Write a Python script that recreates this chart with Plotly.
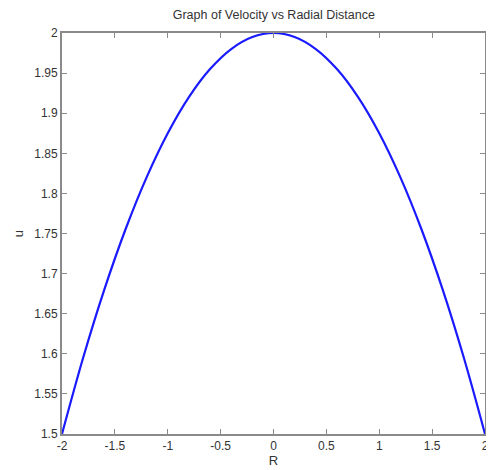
import plotly.graph_objects as go

R = [-2.0, -1.8, -1.6, -1.4, -1.2, -1.0, -0.8, -0.6, -0.4, -0.2, 0.0,
     0.2, 0.4, 0.6, 0.8, 1.0, 1.2, 1.4, 1.6, 1.8, 2.0]
u = [1.5, 1.595, 1.68, 1.755, 1.82, 1.875, 1.92, 1.955, 1.98, 1.995, 2.0,
     1.995, 1.98, 1.955, 1.92, 1.875, 1.82, 1.755, 1.68, 1.595, 1.5]

x_ticks = [-2, -1.5, -1, -0.5, 0, 0.5, 1, 1.5, 2]
x_labels = ["-2", "-1.5", "-1", "-0.5", "0", "0.5", "1", "1.5", "2"]
y_ticks = [1.5, 1.55, 1.6, 1.65, 1.7, 1.75, 1.8, 1.85, 1.9, 1.95, 2.0]
y_labels = ["1.5", "1.55", "1.6", "1.65", "1.7", "1.75", "1.8", "1.85", "1.9", "1.95", "2"]

title = "Graph of Velocity vs Radial Distance"

fig = go.Figure()
fig.add_trace(go.Scatter(x=R, y=u, mode="lines",
                         line=dict(color="#1a1aff", width=2.2, shape="spline"),
                         showlegend=False, cliponaxis=True))

font_family = "Liberation Sans, Arial, sans-serif"
axis_common = dict(showgrid=False, zeroline=False, showline=True, mirror="ticks",
                   linecolor="#8a8a8a", linewidth=2, ticks="inside", ticklen=5,
                   tickcolor="#8a8a8a", tickwidth=1, ticklabeloverflow="allow",
                   tickfont=dict(family=font_family, size=12, color="#333333"))

# the page body adds an 8px margin, so the figure is sized to fit inside the window
fig.update_layout(
    width=486, height=462,
    margin=dict(l=54, r=5, t=25, b=33),
    paper_bgcolor="white", plot_bgcolor="white",
    title=dict(text=title, x=0.547, xanchor="center", y=0.985, yanchor="middle",
               font=dict(family=font_family, size=12.5, color="#333333")),
    xaxis=dict(range=[-2, 2], tickvals=x_ticks, ticktext=x_labels,
               title=dict(text="R", standoff=2, font=dict(family=font_family, size=13, color="#333333")),
               **axis_common),
    yaxis=dict(range=[1.5, 2], tickvals=y_ticks, ticktext=y_labels,
               title=dict(text="u", standoff=8, font=dict(family=font_family, size=13, color="#333333")),
               **axis_common),
)

fig.write_html("out.html")
